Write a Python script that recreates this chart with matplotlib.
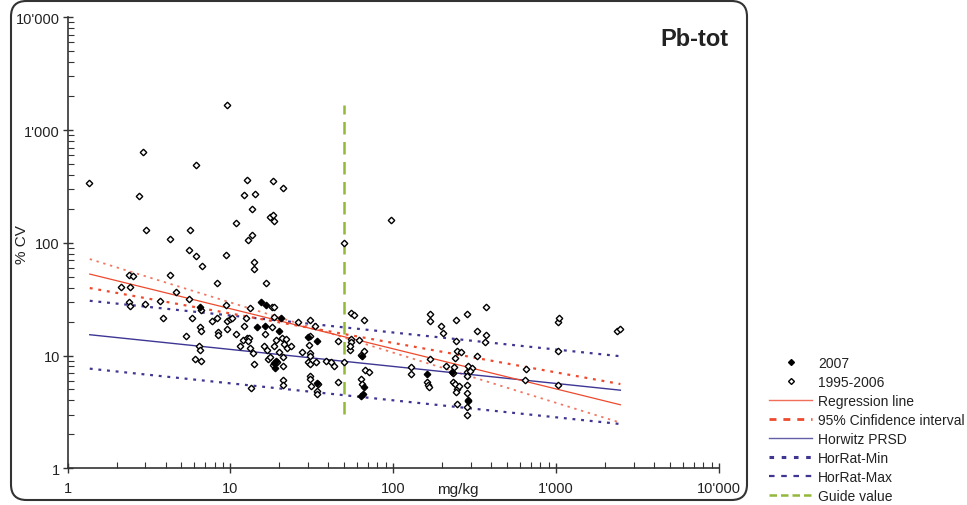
import matplotlib
matplotlib.use("Agg")
import matplotlib.pyplot as plt
from matplotlib.ticker import FixedLocator, LogLocator, FuncFormatter, NullFormatter
from matplotlib.patches import FancyBboxPatch
from matplotlib.lines import Line2D

plt.rcParams['font.family'] = ['Liberation Sans', 'DejaVu Sans']

# --- data -----------------------------------------------------------------
# measurements 1995-2006: concentration (mg/kg) and coefficient of variation (%)
old_conc = [
    1.36, 2.92, 2.75, 3.02, 4.25, 6.17, 5.67, 5.56, 6.17, 9.56, 9.38, 12.57, 12.2,
    14.1, 13.5, 10.9, 12.8, 13.5, 18.3, 20.9, 17.5, 18.3, 18.6, 49.5, 97.5,
    2.38, 2.53, 2.12, 2.41, 4.25, 4.61, 6.68, 8.26, 13.9, 13.9, 16.6, 2.37, 2.41,
    2.98, 3.71, 3.84, 5.6, 5.78, 5.33, 6.06, 6.56, 6.56, 6.53, 6.6, 6.44, 6.5,
    7.7, 8.3, 8.38, 8.38, 9.42, 9.6, 9.93, 9.6, 10.9, 11.4, 12.2, 12.5, 13.2,
    12.0, 12.6, 13.0, 12.8, 13.2, 13.7, 13.9, 13.4, 16.4, 16.1, 16.7, 17.0, 17.5,
    18.0, 18.4, 18.1, 18.5, 19.0, 18.6, 18.3, 19.2, 19.8, 20.9, 20.7, 21.3, 22.1,
    22.4, 23.7, 20.9, 20.9, 21.1, 26.1, 27.5, 30.7, 30.7, 30.3, 32.9, 30.9, 30.9,
    30.0, 30.9, 33.4, 30.9, 31.0, 31.2, 34.6, 34.2, 33.8, 38.5, 41.2, 43.2, 45.5,
    45.5, 49.5, 55.1, 57.3, 54.8, 54.1, 54.8, 54.5, 61.7, 65.9, 63.8, 65.9, 66.9,
    71.0, 63.8, 64.6, 10.2,
    169, 169, 196, 202, 243, 285, 369, 325, 369, 364, 242, 247, 262, 238, 329,
    169, 129, 129, 162, 164, 166, 210, 235, 233, 232, 240, 247, 253, 242, 247,
    288, 304, 285, 296, 285, 285, 285, 288, 285, 285, 650, 644, 1026, 1036,
    1026, 1026, 2375, 2477,
]
old_cv = [
    336, 633, 259, 131, 109, 488, 129, 86, 76, 1652, 78, 360, 265,
    272, 200, 149, 106, 117, 352, 305, 169, 177, 155, 100, 159,
    51.7, 50.4, 40.7, 40.7, 51.7, 36.3, 62.1, 43.6, 67, 58.1, 43.9, 29.6, 27.3,
    28.4, 30.4, 21.6, 31.5, 21.6, 14.9, 9.31, 8.89, 25.3, 17.8, 16.4, 12.2, 11.2,
    20.2, 21.6, 16.2, 15.2, 28.0, 20.2, 21.1, 17.1, 15.5, 12.1, 18.2, 21.6, 26.5,
    13.6, 14.2, 14.3, 13.4, 11.7, 10.5, 8.46, 5.18, 15.5, 12.1, 11.1, 9.31, 9.64,
    26.8, 26.8, 17.9, 22.1, 13.8, 12.1, 8.24, 8.81, 10.8, 9.64, 14.3, 12.7, 14.0,
    11.6, 12.1, 8.07, 6.03, 5.51, 19.7, 10.7, 20.6, 14.8, 12.4, 18.4, 10.5, 10.0,
    8.81, 8.46, 8.70, 6.58, 6.19, 5.40, 5.56, 4.88, 4.59, 8.89, 8.81, 8.12, 13.5,
    5.82, 8.81, 23.8, 22.7, 14.0, 11.2, 13.1, 12.2, 13.8, 20.6, 10.1, 11.0, 7.44,
    7.18, 6.19, 5.56, 21.4,
    23.3, 20.1, 18.4, 15.9, 20.6, 23.2, 26.8, 16.4, 15.3, 13.3, 13.5, 10.9, 10.7,
    9.45, 9.96, 9.25, 7.86, 6.81, 5.79, 5.48, 5.23, 8.12, 7.86, 7.0, 5.79, 5.6,
    5.05, 5.37, 4.72, 3.72, 8.12, 7.8, 7.18, 7.33, 6.54, 5.48, 4.65, 4.06, 3.47,
    2.97, 7.6, 6.1, 19.7, 21.6, 11.0, 5.48, 16.4, 17.2,
]

# measurements 2007
new_conc = [6.53, 14.5, 15.5, 16.5, 16.3, 20.4, 19.8, 29.8, 33.8, 18.6, 18.8, 19.0,
            64.1, 65.9, 63.8, 65.3, 161, 229, 288, 33.8]
new_cv = [26.9, 17.9, 30.0, 28.0, 18.4, 21.6, 16.4, 14.5, 13.5, 8.63, 7.70, 9.0,
          9.96, 5.23, 4.40, 4.56, 6.86, 7.18, 3.93, 5.67]

# straight lines on log-log axes, given at both ends of the concentration range
line_conc = [1.37, 2480]
regression = [52.8, 3.66]
ci_shallow = [39.7, 5.59]
ci_steep = [71.7, 2.54]
horwitz = [15.3, 4.93]
horrat_min = [7.65, 2.47]
horrat_max = [30.6, 9.86]

guide_conc = 50
guide_range = [3.03, 1652]

tick_values = [1, 10, 100, 1000, 10000]

# --- colours --------------------------------------------------------------
RED = '#ee4a2e'
BLUE = '#3d3694'
BLUE_DOT = '#3f3592'
GREEN = '#94b83a'
TXT = '#222222'

# --- figure ---------------------------------------------------------------
fig = plt.figure(figsize=(9.67, 5.06), dpi=100)
ax = fig.add_axes([67.5 / 967, 1 - 469.3 / 506, (719 - 67.5) / 967, (469.3 - 18.3) / 506])
ax.set_xscale('log')
ax.set_yscale('log')
ax.set_xlim(1, 10000)
ax.set_ylim(1, 10000)

dot_style = (0, (1.3, 2.6))
ax.plot(line_conc, horrat_min, color=BLUE_DOT, lw=1.6, ls=dot_style, zorder=2)
ax.plot(line_conc, horrat_max, color=BLUE_DOT, lw=1.6, ls=dot_style, zorder=2)
ax.plot(line_conc, ci_shallow, color=RED, lw=1.6, ls=dot_style, zorder=2)
ax.plot(line_conc, ci_steep, color=RED, lw=1.3, ls=dot_style, alpha=0.75, zorder=2)
ax.plot(line_conc, horwitz, color=BLUE, lw=1.0, zorder=2)
ax.plot(line_conc, regression, color=RED, lw=0.9, zorder=2)
ax.plot([guide_conc, guide_conc], guide_range, color=GREEN, lw=1.8,
        ls=(0, (5, 3)), zorder=2)

ax.plot(old_conc, old_cv, ls='none', marker='D', ms=3.3, mfc='white', mec='black',
        mew=1.0, zorder=3)
ax.plot(new_conc, new_cv, ls='none', marker='D', ms=3.3, mfc='black', mec='black',
        mew=1.0, zorder=4)

# axes styling
for side in ('top', 'right'):
    ax.spines[side].set_visible(False)
for side in ('left', 'bottom'):
    ax.spines[side].set_color('#333333')
    ax.spines[side].set_linewidth(1.2)


def apostrophe(v, pos=None):
    return f"{int(round(v)):,}".replace(",", "'")


for axis in (ax.xaxis, ax.yaxis):
    axis.set_major_locator(FixedLocator(tick_values))
    axis.set_major_formatter(FuncFormatter(apostrophe))
    axis.set_minor_locator(LogLocator(base=10, subs=range(2, 10), numticks=20))
    axis.set_minor_formatter(NullFormatter())
ax.tick_params(which='major', direction='inout', length=7, width=1.0,
               colors='#333333', labelcolor=TXT, labelsize=10.5)
ax.tick_params(which='minor', direction='in', length=4, width=0.8, colors='#333333')
ax.tick_params(axis='x', which='major', pad=6)
ax.tick_params(axis='y', which='major', pad=2)

fig.text(22 / 967, 1 - 245 / 506, '% CV', rotation=90, ha='center', va='center',
         fontsize=11, color=TXT)
fig.text(458 / 967, 1 - 490 / 506, 'mg/kg', ha='center', va='center',
         fontsize=11, color=TXT)
fig.text(728 / 967, 1 - 40 / 506, 'Pb-tot', ha='right', va='center',
         fontsize=17, fontweight='bold', color=TXT)

# rounded frame around the plot area
frame = FancyBboxPatch((11 / 967, 5 / 506), (747 - 11) / 967, (504 - 5) / 506,
                       boxstyle='round,pad=0,rounding_size=0.016',
                       transform=fig.transFigure, fill=False,
                       edgecolor='#333333', linewidth=1.5,
                       mutation_aspect=967 / 506)
fig.patches.append(frame)

handles = [
    Line2D([], [], ls='none', marker='D', ms=3, mfc='black', mec='black'),
    Line2D([], [], ls='none', marker='D', ms=3, mfc='white', mec='black'),
    Line2D([], [], color=RED, lw=1.0, alpha=0.8),
    Line2D([], [], color=RED, lw=2.0, ls=(0, (2.5, 2.5))),
    Line2D([], [], color=BLUE, lw=1.0, alpha=0.8),
    Line2D([], [], color=BLUE_DOT, lw=2.2, ls=(0, (1.5, 2.5))),
    Line2D([], [], color=BLUE_DOT, lw=1.6, ls=(0, (2.5, 3))),
    Line2D([], [], color=GREEN, lw=1.8, ls=(0, (3, 1.6))),
]
labels = ['2007', '1995-2006', 'Regression line', '95% Cinfidence interval',
          'Horwitz PRSD', 'HorRat-Min', 'HorRat-Max', 'Guide value']
fig.legend(handles, labels, loc='upper left', bbox_to_anchor=(769 / 967, 1 - 357 / 506),
           frameon=False, fontsize=10, handlelength=3.1, handletextpad=0.45,
           labelspacing=0.36, borderaxespad=0, borderpad=0, labelcolor=TXT)

fig.savefig('out.png', dpi=100)
